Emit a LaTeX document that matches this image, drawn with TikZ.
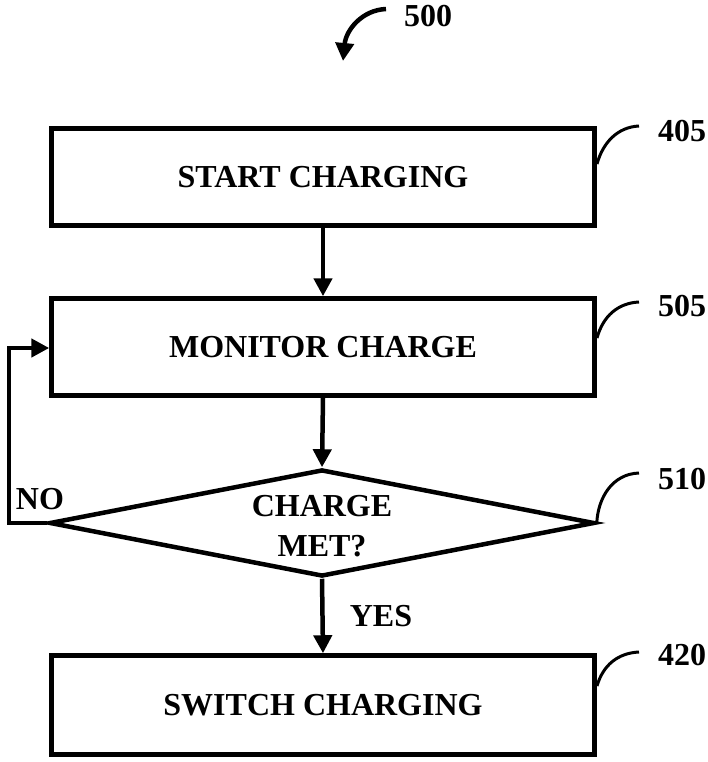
\documentclass[tikz,border=0pt]{standalone}
\usepackage{fontspec}
\setmainfont{Liberation Serif}
\usetikzlibrary{shapes.geometric,arrows.meta}
\begin{document}
\begin{tikzpicture}[x=1pt,y=-1pt,
  stepbox/.style={draw, line width=4.5pt, minimum width=543pt, minimum height=97pt, inner sep=0pt,
    font=\fontsize{32}{36}\selectfont\bfseries},
  decision/.style={draw, diamond, aspect=4.95, line width=4.5pt, minimum width=545pt, minimum height=107pt, inner sep=0pt},
  txt/.style={font=\fontsize{32}{40}\selectfont\bfseries, inner sep=0pt, align=center},
  reflabel/.style={font=\fontsize{32}{36}\selectfont\bfseries, inner sep=0pt},
  flow/.style={line width=4.5pt, -{Triangle[length=18pt,width=18pt]}},
  leader/.style={line width=3pt}]
\useasboundingbox (0,0) rectangle (707,762);
\node[stepbox] (s1) at (323,177) {START CHARGING};
\node[stepbox] (s2) at (323,347) {MONITOR CHARGE};
\node[decision] (d) at (322,523) {};
\node[txt] (dt) at (322,526) {CHARGE\\MET?};
\node[stepbox, minimum height=99pt] (s3) at (323,705) {SWITCH CHARGING};
\draw[flow] (s1.south) -- (s2.north);
\draw[flow] (s2.south) -- (d.north);
\draw[flow] (d.south) -- (s3.north);
\coordinate (lb) at (9,523);
\coordinate (lt) at (9,348);
\draw[flow] (d.west) -- (lb) -- (lt) -- (s2.west |- lt);
\node[reflabel] (no) at (40,499) {NO};
\node[reflabel] (yes) at (381,616) {YES};
% reference labels
\node[reflabel] (l500) at (428,16) {500};
\node[reflabel] (l405) at (682,131) {405};
\node[reflabel] (l505) at (682,306) {505};
\node[reflabel] (l510) at (682,479) {510};
\node[reflabel] (l420) at (682,655) {420};
\coordinate (c500) at (386,9);
\draw[flow] (c500) .. controls (362,10) and (346,30) .. (343,61);
\coordinate (c405) at (639,126);
\draw[leader] (597,164) .. controls (603,142) and (618,127) .. (c405);
\coordinate (c505) at (639,302);
\draw[leader] (597,338) .. controls (603,316) and (618,303) .. (c505);
\coordinate (c510) at (639,473);
\draw[leader] (d.east) .. controls (598,498) and (612,474) .. (c510);
\coordinate (c420) at (639,652);
\draw[leader] (597,686) .. controls (603,665) and (618,653) .. (c420);
\end{tikzpicture}
\end{document}
